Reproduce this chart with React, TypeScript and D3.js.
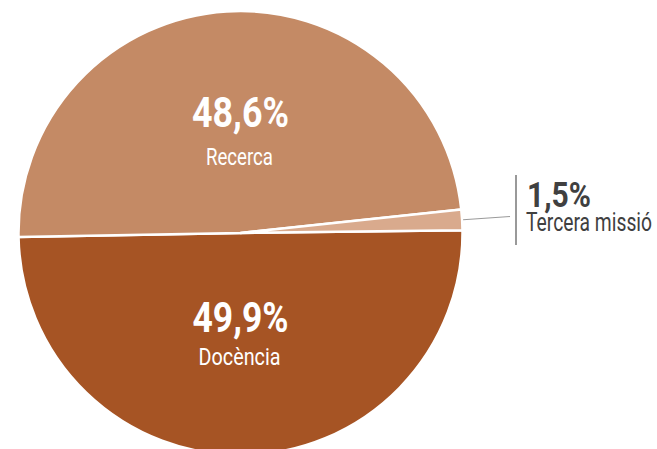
import React from "react";
import * as d3 from "d3";

const categories = ["Docència", "Recerca", "Tercera missió"];
const values = [49.9, 48.6, 1.5];
const labels = ["49,9%", "48,6%", "1,5%"];
const colors = ["#A65424", "#C48A65", "#D9AA8D"];

const W = 657;
const H = 449;
const cx = 240.5;
const cy = 233;
const R = 222;
const FONT = "Roboto, 'DejaVu Sans', sans-serif";

export default function App() {
  const toRad = (d: number) => (d * Math.PI) / 180;
  const start = toRad(89.3);
  const pie = d3
    .pie<number>()
    .sort(null)
    .value((d) => d)
    .startAngle(start)
    .endAngle(start + 2 * Math.PI);
  const arcs = pie(values);
  const arc = d3.arc<d3.PieArcDatum<number>>().innerRadius(0).outerRadius(R);

  const inner = [
    { i: 0, y: 332, w: 96, ny: 365, nw: 82 },
    { i: 1, y: 127, w: 97, ny: 165, nw: 67 },
  ];

  const small = arcs[2];
  const mid = (small.startAngle + small.endAngle) / 2;
  const lx0 = cx + Math.sin(mid) * (R + 1);
  const ly0 = cy - Math.cos(mid) * (R + 1);

  return (
    <svg
      width={W}
      height={H}
      style={{ position: "absolute", left: 0, top: 0, display: "block" }}
    >
      <g transform={`translate(${cx},${cy})`}>
        {arcs.map((a, i) => (
          <path
            key={categories[i]}
            d={arc(a) || ""}
            fill={colors[i]}
            stroke="#fff"
            strokeWidth={2.5}
            strokeLinejoin="round"
          />
        ))}
      </g>
      {inner.map((o) => (
        <g key={"l" + o.i} fontFamily={FONT} fill="#fff" textAnchor="middle">
          <text
            x={cx}
            y={o.y}
            fontSize={42}
            fontWeight="bold"
            textLength={o.w}
            lengthAdjust="spacingAndGlyphs"
          >
            {labels[o.i]}
          </text>
          <text
            x={cx - 1}
            y={o.ny}
            fontSize={24}
            textLength={o.nw}
            lengthAdjust="spacingAndGlyphs"
          >
            {categories[o.i]}
          </text>
        </g>
      ))}
      <line
        x1={lx0}
        y1={ly0}
        x2={510}
        y2={216.5}
        stroke="#9a9a9a"
        strokeWidth={1.2}
      />
      <line x1={516} y1={175} x2={516} y2={245} stroke="#555" strokeWidth={1.2} />
      <g fontFamily={FONT} fill="#404040">
        <text
          x={527}
          y={207}
          fontSize={35}
          fontWeight="bold"
          textLength={64}
          lengthAdjust="spacingAndGlyphs"
        >
          {labels[2]}
        </text>
        <text
          x={526}
          y={231}
          fontSize={26}
          textLength={126}
          lengthAdjust="spacingAndGlyphs"
        >
          {categories[2]}
        </text>
      </g>
    </svg>
  );
}
